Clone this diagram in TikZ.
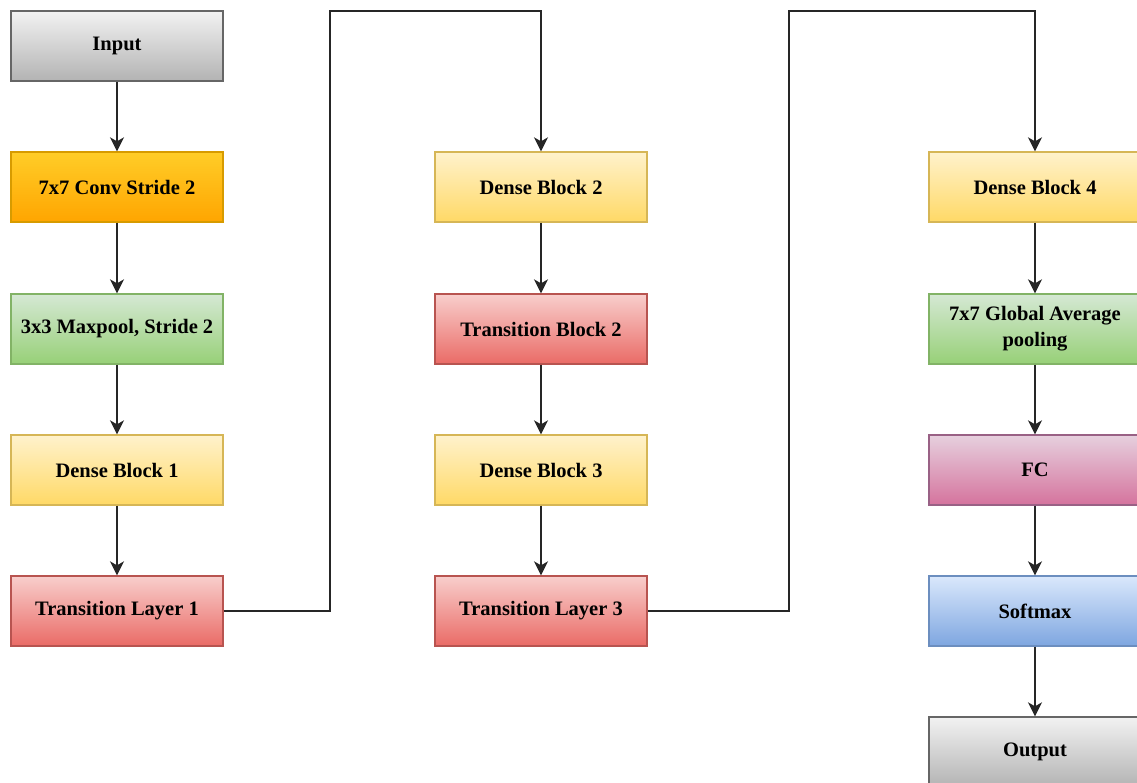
\documentclass[tikz,border=0pt]{standalone}
\usepackage{fontspec}
\setmainfont{Liberation Serif}
\usetikzlibrary{arrows.meta}
\definecolor{grayT}{HTML}{F2F2F2}\definecolor{grayB}{HTML}{B3B3B3}\definecolor{grayD}{HTML}{666666}
\definecolor{orT}{HTML}{FFCD28}\definecolor{orB}{HTML}{FFA500}\definecolor{orD}{HTML}{D79B00}
\definecolor{grT}{HTML}{D5E8D4}\definecolor{grB}{HTML}{97D077}\definecolor{grD}{HTML}{82B366}
\definecolor{yeT}{HTML}{FFF2CC}\definecolor{yeB}{HTML}{FFD966}\definecolor{yeD}{HTML}{D6B656}
\definecolor{reT}{HTML}{F8CECC}\definecolor{reB}{HTML}{EA6B66}\definecolor{reD}{HTML}{B85450}
\definecolor{piT}{HTML}{E6D0DE}\definecolor{piB}{HTML}{D5739D}\definecolor{piD}{HTML}{996185}
\definecolor{blT}{HTML}{DAE8FC}\definecolor{blB}{HTML}{7EA6E0}\definecolor{blD}{HTML}{6C8EBF}
\tikzset{
  x=1pt,y=-1pt,
  box/.style={rectangle, minimum width=212pt, minimum height=70pt, line width=1.3pt,
    font=\fontsize{20.5}{26}\selectfont\bfseries, align=center, inner sep=2pt},
  gbox/.style={box, draw=grayD, top color=grayT, bottom color=grayB},
  obox/.style={box, draw=orD, top color=orT, bottom color=orB},
  grbox/.style={box, draw=grD, top color=grT, bottom color=grB},
  ybox/.style={box, draw=yeD, top color=yeT, bottom color=yeB},
  rbox/.style={box, draw=reD, top color=reT, bottom color=reB},
  pbox/.style={box, draw=piD, top color=piT, bottom color=piB},
  bbox/.style={box, draw=blD, top color=blT, bottom color=blB},
  conn/.style={line width=1.8pt, draw=black!85, -{Stealth[length=14pt,width=14pt,inset=4pt]}},
}
\begin{document}
\begin{tikzpicture}
\useasboundingbox (0,0) rectangle (1137,783);
\clip (0,0) rectangle (1137,783);
\fill[white] (0,0) rectangle (1137,783);
% left column
\node[gbox] (in) at (117,46) {Input};
\node[obox] (conv) at (117,187) {7x7 Conv Stride 2};
\node[grbox] (mp) at (117,329) {3x3 Maxpool, Stride 2};
\node[ybox] (d1) at (117,470) {Dense Block 1};
\node[rbox] (t1) at (117,611) {Transition Layer 1};
% middle column
\node[ybox] (d2) at (541,187) {Dense Block 2};
\node[rbox] (t2) at (541,329) {Transition Block 2};
\node[ybox] (d3) at (541,470) {Dense Block 3};
\node[rbox] (t3) at (541,611) {Transition Layer 3};
% right column
\node[ybox] (d4) at (1035,187) {Dense Block 4};
\node[grbox] (gap) at (1035,329) {7x7 Global Average\\pooling};
\node[pbox] (fc) at (1035,470) {FC};
\node[bbox] (sm) at (1035,611) {Softmax};
\node[gbox] (out) at (1035,752) {Output};
% connectors
\draw[conn] (in) -- (conv);
\draw[conn] (conv) -- (mp);
\draw[conn] (mp) -- (d1);
\draw[conn] (d1) -- (t1);
\draw[conn] (t1.east) -- (330,611) -- (330,11) -- (541,11) -- (d2.north);
\draw[conn] (d2) -- (t2);
\draw[conn] (t2) -- (d3);
\draw[conn] (d3) -- (t3);
\draw[conn] (t3.east) -- (789,611) -- (789,11) -- (1035,11) -- (d4.north);
\draw[conn] (d4) -- (gap);
\draw[conn] (gap) -- (fc);
\draw[conn] (fc) -- (sm);
\draw[conn] (sm) -- (out);
\end{tikzpicture}
\end{document}
